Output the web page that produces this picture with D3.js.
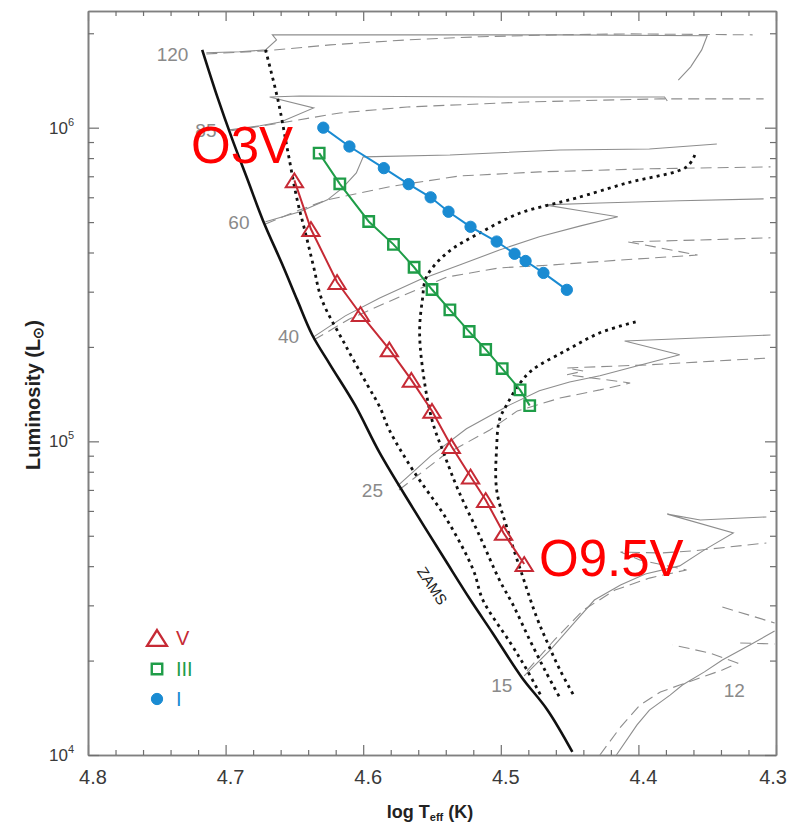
<!DOCTYPE html>
<html>
<head>
<meta charset="utf-8">
<script src="https://cdn.jsdelivr.net/npm/d3@7"></script>
<style>
  html, body { margin: 0; padding: 0; background: #fff; }
  svg { display: block; font-family: "Liberation Sans", Arial, Helvetica, sans-serif; }
</style>
</head>
<body>
<svg id="chart" width="788" height="822"></svg>
<script>
// ---------- Calibration of O stars (O3 ... O9.5), log Teff and log L/Lsun ----------
const spectralTypes = ["O3","O4","O5","O5.5","O6","O6.5","O7","O7.5","O8","O8.5","O9","O9.5"];
const teffV   = [4.650, 4.638, 4.619, 4.602, 4.581, 4.565, 4.550, 4.536, 4.522, 4.511, 4.498, 4.483];
const logLV   = [5.832, 5.677, 5.508, 5.406, 5.293, 5.196, 5.097, 4.985, 4.888, 4.813, 4.708, 4.609];
const teffIII = [4.632, 4.617, 4.596, 4.578, 4.563, 4.550, 4.537, 4.523, 4.511, 4.499, 4.486, 4.479];
const logLIII = [5.919, 5.821, 5.701, 5.628, 5.555, 5.484, 5.419, 5.350, 5.293, 5.232, 5.164, 5.114];
const teffI   = [4.629, 4.610, 4.585, 4.567, 4.551, 4.538, 4.522, 4.503, 4.490, 4.482, 4.469, 4.452];
const logLI   = [6.000, 5.940, 5.871, 5.820, 5.778, 5.732, 5.684, 5.637, 5.598, 5.575, 5.537, 5.483];

// ---------- Zero-age main sequence [log Teff, log L] ----------
const zams = [[4.717,6.248],[4.706,6.098],[4.695,5.961],[4.684,5.834],[4.673,5.706],[4.658,5.556],
  [4.648,5.451],[4.637,5.339],[4.624,5.244],[4.606,5.116],[4.588,4.963],[4.564,4.788],[4.539,4.612],
  [4.522,4.494],[4.506,4.389],[4.485,4.249],[4.466,4.143],[4.448,4.010]];

// ---------- Dotted boundaries ----------
const dottedA = [[4.671,6.248],[4.662,6.089],[4.655,5.929],[4.648,5.770],[4.642,5.665],[4.636,5.556],
  [4.630,5.451],[4.613,5.307],[4.597,5.180],[4.588,5.110],[4.581,5.036],[4.564,4.909],[4.539,4.749],
  [4.520,4.590],[4.513,4.494],[4.493,4.357],[4.481,4.271],[4.470,4.182]];
const dottedB = [[4.359,5.913],[4.365,5.875],[4.408,5.824],[4.445,5.776],[4.459,5.760],[4.486,5.728],
  [4.515,5.665],[4.539,5.601],[4.554,5.524],[4.557,5.451],[4.559,5.355],[4.557,5.237],[4.550,5.068],
  [4.541,4.957],[4.531,4.845],[4.515,4.695],[4.501,4.558],[4.491,4.478],[4.479,4.367],[4.468,4.271],[4.457,4.182]];
const dottedC = [[4.402,5.381],[4.428,5.346],[4.452,5.291],[4.477,5.228],[4.486,5.186],[4.495,5.122],
  [4.501,5.068],[4.503,4.982],[4.503,4.845],[4.495,4.717],[4.484,4.568],[4.474,4.440],[4.466,4.357],
  [4.457,4.271],[4.446,4.182]];

// ---------- Evolutionary tracks (solid and dashed variants) ----------
const track120Solid = [[4.714,6.239],[4.690,6.242],[4.671,6.248],[4.663,6.280],[4.666,6.296],[4.573,6.296],
  [4.457,6.296],[4.350,6.293],[4.354,6.248],[4.362,6.194],[4.371,6.152]];
const track120Dashed = [[4.714,6.235],[4.671,6.245],[4.624,6.264],[4.568,6.280],[4.515,6.290],[4.457,6.296],
  [4.408,6.299],[4.317,6.296]];
const track85Solid = [[4.697,5.993],[4.675,6.006],[4.660,6.018],[4.636,6.063],[4.668,6.098],[4.646,6.101],
  [4.501,6.098],[4.381,6.098],[4.379,6.085]];
const track85Dashed = [[4.696,5.990],[4.660,6.015],[4.617,6.047],[4.568,6.066],[4.481,6.082],[4.384,6.092],[4.309,6.092]];
const track60Solid = [[4.671,5.700],[4.646,5.732],[4.626,5.770],[4.615,5.808],[4.605,5.856],[4.600,5.907],
  [4.537,5.913],[4.457,5.929],[4.392,5.932],[4.343,5.948]];
const track60Dashed = [[4.671,5.693],[4.646,5.738],[4.626,5.770],[4.578,5.814],[4.530,5.846],[4.472,5.859],
  [4.392,5.869],[4.304,5.875]];
const track40Solid = [[4.636,5.333],[4.613,5.400],[4.588,5.457],[4.559,5.515],[4.530,5.562],[4.501,5.610],
  [4.472,5.652],[4.442,5.687],[4.415,5.716],[4.442,5.735],[4.468,5.754],[4.428,5.760],[4.370,5.767],[4.309,5.773]];
const track40Dashed = [[4.636,5.323],[4.610,5.390],[4.577,5.454],[4.539,5.524],[4.501,5.553],[4.464,5.562],
  [4.413,5.578],[4.357,5.594],[4.388,5.620],[4.408,5.636],[4.355,5.642],[4.304,5.649]];
const track25Solid = [[4.575,4.858],[4.551,4.953],[4.525,5.040],[4.495,5.113],[4.472,5.161],[4.450,5.189],
  [4.428,5.209],[4.404,5.237],[4.370,5.276],[4.410,5.320],[4.392,5.323],[4.304,5.339]];
const track25Dashed = [[4.574,4.845],[4.541,4.957],[4.508,5.036],[4.488,5.097],[4.457,5.138],[4.428,5.164],
  [4.406,5.186],[4.428,5.199],[4.452,5.212],[4.440,5.224],[4.452,5.234],[4.392,5.244],[4.304,5.266]];
const track15Solid = [[4.483,4.252],[4.464,4.335],[4.448,4.415],[4.432,4.494],[4.413,4.542],[4.395,4.577],
  [4.370,4.603],[4.352,4.654],[4.331,4.708],[4.379,4.768],[4.355,4.749],[4.307,4.759]];
const track15Dashed = [[4.481,4.268],[4.461,4.367],[4.440,4.462],[4.417,4.526],[4.392,4.564],[4.365,4.590],
  [4.399,4.622],[4.413,4.647],[4.384,4.644],[4.360,4.651],[4.307,4.676]];
const track12Solid = [[4.416,4.000],[4.401,4.096],[4.392,4.143],[4.377,4.191],[4.368,4.223],[4.352,4.265],
  [4.339,4.303],[4.319,4.351],[4.301,4.395]];
const track12Dashed = [[4.428,4.000],[4.413,4.089],[4.399,4.159],[4.384,4.201],[4.370,4.223],[4.339,4.271],
  [4.328,4.293],[4.348,4.325],[4.375,4.351]];
const track12DashedUpper = [[4.339,4.472],[4.301,4.421]];
const track12DashedMid = [[4.326,4.357],[4.301,4.354]];

// ---------- Mass labels (Msun) and where each one is written ----------
const massLabels = ["120","85","60","40","25","15","12"];
const massLabelAnchor = [[4.727,6.213],[4.722,5.971],[4.698,5.677],[4.662,5.314],[4.601,4.823],[4.507,4.201],[4.338,4.185]];

// ---------- Axis tick labels ----------
const xTickValues = [4.8, 4.7, 4.6, 4.5, 4.4, 4.3];
const xTickLabels = ["4.8","4.7","4.6","4.5","4.4","4.3"];
const yTickExponents = [4, 5, 6];

// ---------- Legend ----------
const legendNames = ["V","III","I"];

(function draw() {
  const colV = "#c62a35", colIII = "#1f9d48", colI = "#1a8bd2";
  const trackGray = "#8d8d8d";

  const svg = d3.select("#chart");
  const pL = 88, pR = 776, pT = 11, pB = 755;

  const x = d3.scaleLinear().domain([4.8, 4.3]).range([pL, pR]);
  const y = d3.scaleLog().domain([1e4, Math.pow(10, 6.372)]).range([pB, pT]);
  const Y = v => y(Math.pow(10, v));

  svg.append("defs").append("clipPath").attr("id", "plotArea")
    .append("rect").attr("x", pL).attr("y", pT).attr("width", pR - pL).attr("height", pB - pT);

  const line = d3.line().x(d => x(d[0])).y(d => Y(d[1]));
  const smoothLine = d3.line().x(d => x(d[0])).y(d => Y(d[1])).curve(d3.curveCatmullRom.alpha(0.5));

  // ---------- Axes (frame with inward ticks) ----------
  function styleAxis(g) {
    g.selectAll("path.domain").attr("stroke", "#808080").attr("stroke-width", 1.6);
    g.selectAll(".tick line").attr("stroke", "#6f6f6f").attr("stroke-width", 1.2);
    g.selectAll(".tick text").remove();
  }
  const xMinor = d3.range(4.78, 4.305, -0.02).filter(v => Math.abs(v * 10 - Math.round(v * 10)) > 1e-6);
  const yMajor = yTickExponents.map(e => Math.pow(10, e));
  const yMinor = y.ticks().filter(v => !yMajor.some(m => Math.abs(m - v) < 1e-6));

  [[d3.axisBottom, pB], [d3.axisTop, pT]].forEach(([ax, pos]) => {
    svg.append("g").attr("transform", `translate(0,${pos})`)
      .call(ax(x).tickValues(xTickValues).tickSize(-10).tickSizeOuter(0)).call(styleAxis);
    svg.append("g").attr("transform", `translate(0,${pos})`)
      .call(ax(x).tickValues(xMinor).tickSize(-5).tickSizeOuter(0)).call(styleAxis);
  });
  [[d3.axisLeft, pL], [d3.axisRight, pR]].forEach(([ax, pos]) => {
    svg.append("g").attr("transform", `translate(${pos},0)`)
      .call(ax(y).tickValues(yMajor).tickSize(-11).tickSizeOuter(0)).call(styleAxis);
    svg.append("g").attr("transform", `translate(${pos},0)`)
      .call(ax(y).tickValues(yMinor).tickSize(-6).tickSizeOuter(0)).call(styleAxis);
  });

  // x tick labels (the last one is kept inside the page edge)
  const nX = xTickValues.length;
  svg.append("g").selectAll("text").data(xTickValues).join("text")
    .attr("x", (d, i) => i === nX - 1 ? 787 : x(d) + 5).attr("y", 784)
    .attr("text-anchor", (d, i) => i === nX - 1 ? "end" : "middle")
    .attr("font-size", 20).attr("fill", "#3a3a3a")
    .text((d, i) => xTickLabels[i]);

  // y tick labels: 10^n
  const yLab = svg.append("g").selectAll("text").data(yTickExponents).join("text")
    .attr("x", 74).attr("y", d => y(Math.pow(10, d)) + 6)
    .attr("text-anchor", "end").attr("fill", "#3a3a3a").attr("font-size", 17);
  yLab.append("tspan").text("10");
  yLab.append("tspan").attr("font-size", 11).attr("dy", -8).text(d => d);

  // axis titles
  const xt = svg.append("text").attr("x", 430).attr("y", 818).attr("text-anchor", "middle")
    .attr("font-weight", "bold").attr("font-size", 18).attr("fill", "#222");
  xt.append("tspan").text("log T");
  xt.append("tspan").attr("font-size", 11).attr("dy", 3).text("eff");
  xt.append("tspan").attr("dy", -3).text(" (K)");

  const yt = svg.append("text").attr("transform", "translate(40,395) rotate(-90)")
    .attr("text-anchor", "middle").attr("font-weight", "bold").attr("font-size", 20).attr("fill", "#222");
  yt.append("tspan").text("Luminosity  (L");
  yt.append("tspan").attr("font-size", 14).attr("dy", 3).text("\u2299");
  yt.append("tspan").attr("dy", -3).text(")");

  // ---------- Plot content ----------
  const plot = svg.append("g").attr("clip-path", "url(#plotArea)");

  const tracks = [
    [track120Solid, false], [track120Dashed, true], [track85Solid, false], [track85Dashed, true],
    [track60Solid, false], [track60Dashed, true], [track40Solid, false], [track40Dashed, true],
    [track25Solid, false], [track25Dashed, true], [track15Solid, false], [track15Dashed, true],
    [track12Solid, false], [track12Dashed, true], [track12DashedUpper, true], [track12DashedMid, true]
  ];
  plot.append("g").selectAll("path").data(tracks).join("path")
    .attr("d", d => line(d[0]))
    .attr("fill", "none").attr("stroke", trackGray).attr("stroke-width", 1.1)
    .attr("stroke-dasharray", d => d[1] ? "11,6" : null);

  plot.append("g").selectAll("path").data([dottedA, dottedB, dottedC]).join("path")
    .attr("d", smoothLine).attr("fill", "none").attr("stroke", "#111")
    .attr("stroke-width", 2.8).attr("stroke-dasharray", "3,4.2");

  plot.append("path").attr("d", smoothLine(zams)).attr("fill", "none")
    .attr("stroke", "#111").attr("stroke-width", 2.6);

  // mass labels
  svg.append("g").selectAll("text").data(massLabels).join("text")
    .attr("x", (d, i) => x(massLabelAnchor[i][0])).attr("y", (d, i) => Y(massLabelAnchor[i][1]))
    .attr("text-anchor", (d, i) => i === 0 ? "end" : "start")
    .attr("font-size", 19).attr("fill", "#8a8a8a").text(d => d);

  // ZAMS label
  svg.append("text").attr("transform", "translate(432,586) rotate(57)")
    .attr("text-anchor", "middle").attr("dy", 5).attr("font-size", 15).attr("fill", "#222").text("ZAMS");

  // ---------- Spectral-type sequences ----------
  const triangle = {
    draw(ctx, size) {
      const w = Math.sqrt(size), h = w * 0.8;
      ctx.moveTo(0, -h / 2);
      ctx.lineTo(w / 2, h / 2);
      ctx.lineTo(-w / 2, h / 2);
      ctx.closePath();
    }
  };
  const series = [
    { t: teffV,   l: logLV,   color: colV,   symbol: d3.symbol(triangle, 300), fill: "none", sw: 2 },
    { t: teffIII, l: logLIII, color: colIII, symbol: d3.symbol(d3.symbolSquare, 110), fill: "none", sw: 2.4 },
    { t: teffI,   l: logLI,   color: colI,   symbol: d3.symbol(d3.symbolCircle, 100), fill: colI, sw: 1 }
  ];
  series.forEach(s => {
    const pts = s.t.map((t, i) => [t, s.l[i]]);
    const g = svg.append("g");
    g.append("path").attr("d", line(pts)).attr("fill", "none").attr("stroke", s.color).attr("stroke-width", 2);
    g.selectAll("path.m").data(pts).join("path").attr("class", "m")
      .attr("transform", d => `translate(${x(d[0])},${Y(d[1])})`)
      .attr("d", s.symbol()).attr("fill", s.fill).attr("stroke", s.color).attr("stroke-width", s.sw);
  });

  // ---------- Legend ----------
  const legendY = [638, 669, 699];
  const legendScale = [1.15, 1, 1];
  const lg = svg.append("g");
  series.forEach((s, i) => {
    lg.append("path").attr("transform", `translate(157,${legendY[i]}) scale(${legendScale[i]})`)
      .attr("d", s.symbol()).attr("fill", s.fill).attr("stroke", s.color).attr("stroke-width", s.sw);
    lg.append("text").attr("x", 176).attr("y", legendY[i] + 7).attr("font-size", 20)
      .attr("fill", s.color).text(legendNames[i]);
  });

  // ---------- Spectral type annotations at both ends of the dwarf sequence ----------
  svg.append("text").attr("x", 191).attr("y", 163).attr("font-size", 51).attr("fill", "#ff0000")
    .text(spectralTypes[0] + "V");
  svg.append("text").attr("x", 539).attr("y", 576).attr("font-size", 51).attr("fill", "#ff0000")
    .text(spectralTypes[spectralTypes.length - 1] + "V");
})();
</script>
</body>
</html>
